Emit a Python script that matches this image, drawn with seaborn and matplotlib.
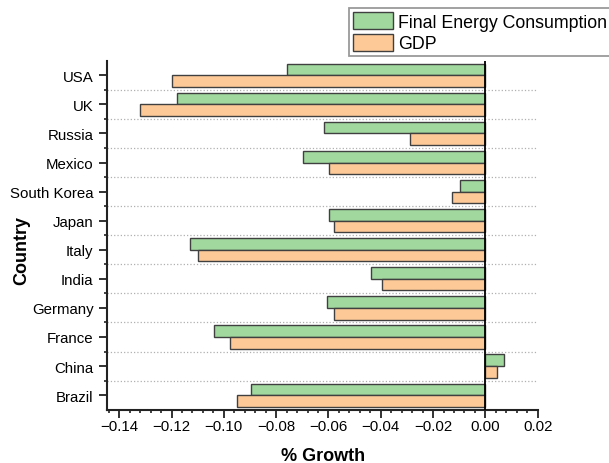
import numpy as np
import pandas as pd
import matplotlib
matplotlib.use("Agg")
import matplotlib.pyplot as plt
from matplotlib.ticker import MultipleLocator
import seaborn as sns

# Values
countries = ["USA", "UK", "Russia", "Mexico", "South Korea", "Japan",
             "Italy", "India", "Germany", "France", "China", "Brazil"]
energy_growth = [-0.0757, -0.118, -0.0617, -0.0696, -0.0098, -0.0597,
                 -0.1128, -0.0438, -0.0606, -0.1039, 0.0072, -0.0897]
gdp_growth = [-0.1199, -0.132, -0.0288, -0.0597, -0.0129, -0.0578,
              -0.1097, -0.0396, -0.0578, -0.0977, 0.0043, -0.0948]
series_names = ["Final Energy Consumption", "GDP"]

df = pd.DataFrame({
    "Country": countries * 2,
    "Growth": energy_growth + gdp_growth,
    "Series": [series_names[0]] * len(countries) + [series_names[1]] * len(countries),
})

sns.set_style("ticks")
plt.rcParams["font.family"] = ["Liberation Sans", "DejaVu Sans"]
plt.rcParams["text.color"] = "black"
plt.rcParams["axes.labelcolor"] = "black"
plt.rcParams["xtick.color"] = "black"
plt.rcParams["ytick.color"] = "black"

fig = plt.figure(figsize=(6.09, 4.64), dpi=100)
ax = fig.add_axes([0.1752, 0.1149, 0.7085, 0.752])

palette = {"Final Energy Consumption": "#a0d89e", "GDP": "#fdc996"}
sns.barplot(data=df, x="Growth", y="Country", hue="Series", order=countries,
            hue_order=series_names, palette=palette, orient="h", width=0.8,
            edgecolor="#404040", linewidth=1.0, saturation=1, ax=ax)

ax.set_xlim(-0.1448, 0.0202)
ax.set_ylim(11.5, -0.5)
ax.axvline(0, color="black", lw=1.3, zorder=3)

# ticks
ax.xaxis.set_major_locator(MultipleLocator(0.02))
ax.xaxis.set_minor_locator(MultipleLocator(0.004))
ax.set_yticks(np.arange(len(countries)))
ax.set_yticks(np.arange(len(countries) - 1) + 0.5, minor=True)
ax.xaxis.set_major_formatter(plt.FuncFormatter(lambda v, p: f"{v:.2f}".replace("-", "\u2212")))
ax.tick_params(axis="both", which="major", direction="out", length=5.5, width=1.3,
               labelsize=10.8, color="#222222", labelcolor="black")
ax.tick_params(axis="x", which="major", pad=1.5)
ax.tick_params(axis="y", which="major", pad=4)
ax.tick_params(axis="both", which="minor", direction="out", length=2.5, width=1.2,
               color="#222222")

# dotted separators between countries
ax.grid(which="minor", axis="y", linestyle=":", color="#b0b0b0", lw=0.9)
ax.set_axisbelow(True)

sns.despine(ax=ax)
for side in ["left", "bottom"]:
    ax.spines[side].set_linewidth(1.5)
    ax.spines[side].set_color("#222222")

ax.set_xlabel("% Growth", fontsize=13, fontweight="bold", color="black")
ax.set_ylabel("Country", fontsize=13, fontweight="bold", color="black")
ax.xaxis.label.set_va("center")
ax.yaxis.label.set_va("center")
ax.xaxis.set_label_coords(0.501, -0.1318)
ax.yaxis.set_label_coords(-0.197, 0.4605)

handles, labels = ax.get_legend_handles_labels()
ax.get_legend().remove()
leg = fig.legend(handles, labels, loc="upper left", bbox_to_anchor=(0.5726, 0.98),
                 fontsize=12.8, frameon=True, fancybox=False, handlelength=2.25,
                 handleheight=1.1, handletextpad=0.32, labelspacing=0.16,
                 borderpad=0.22, borderaxespad=0)
leg.get_frame().set_edgecolor("#808080")
leg.get_frame().set_linewidth(1.3)
for t in leg.get_texts():
    t.set_color("black")

fig.savefig("out.png", dpi=100)
